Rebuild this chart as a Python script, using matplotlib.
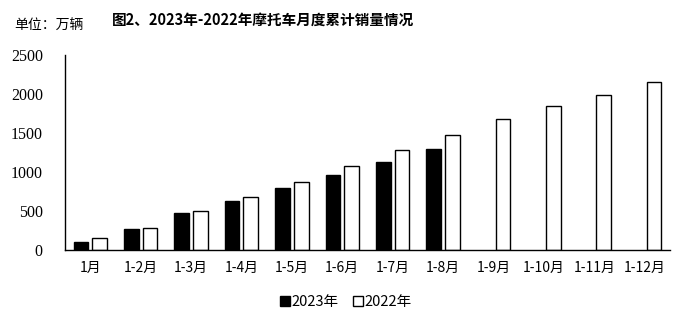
import matplotlib
matplotlib.use("Agg")
import matplotlib.pyplot as plt
import numpy as np

plt.rcParams['font.family'] = ['Noto Sans CJK SC', 'DejaVu Sans']

categories = ["1月", "1-2月", "1-3月", "1-4月", "1-5月", "1-6月", "1-7月", "1-8月",
              "1-9月", "1-10月", "1-11月", "1-12月"]
sales_2023 = [99, 270, 470, 632, 799, 962, 1124, 1295]
sales_2022 = [150, 278, 496, 677, 872, 1073, 1278, 1474, 1675, 1842, 1987, 2150]
y_ticks = [0, 500, 1000, 1500, 2000, 2500]

fig = plt.figure(figsize=(6.84, 3.22), dpi=100)
ax = fig.add_axes([65 / 684, 1 - 250 / 322, 605 / 684, 195 / 322])

x = np.arange(len(categories))
w = 0.29
off = 0.185
ax.bar(x[:len(sales_2023)] - off, sales_2023, width=w, color="black",
       edgecolor="black", linewidth=1.0, label="2023年")
ax.bar(x + off, sales_2022, width=w, color="white",
       edgecolor="black", linewidth=1.0, label="2022年")

ax.set_xlim(-0.5, len(categories) - 0.5)
ax.set_ylim(0, 2500)
ax.set_yticks(y_ticks)
ax.set_yticklabels([str(v) for v in y_ticks], family="Liberation Serif", fontsize=11.5)
ax.set_xticks(x)
ax.set_xticklabels(categories, fontsize=10)
ax.tick_params(axis="both", length=0)
ax.tick_params(axis="y", pad=16)
ax.tick_params(axis="x", pad=8)

for s in ["top", "right"]:
    ax.spines[s].set_visible(False)
for s in ["left", "bottom"]:
    ax.spines[s].set_linewidth(1.0)
    ax.spines[s].set_color("black")

fig.text(14 / 684, 1 - 26 / 322, "单位：万辆", fontsize=10, va="center", ha="left")
fig.text(112 / 684, 1 - 20 / 322, "图2、2023年-2022年摩托车月度累计销量情况",
         fontsize=10.5, fontweight="bold", va="center", ha="left")

leg = ax.legend(loc="center", bbox_to_anchor=(346 / 684, 1 - 302 / 322),
                bbox_transform=fig.transFigure, ncol=2, frameon=False,
                handlelength=0.7, handleheight=0.7, handletextpad=0.1,
                columnspacing=1.0, fontsize=10.5)

fig.savefig("out.png", dpi=100)
